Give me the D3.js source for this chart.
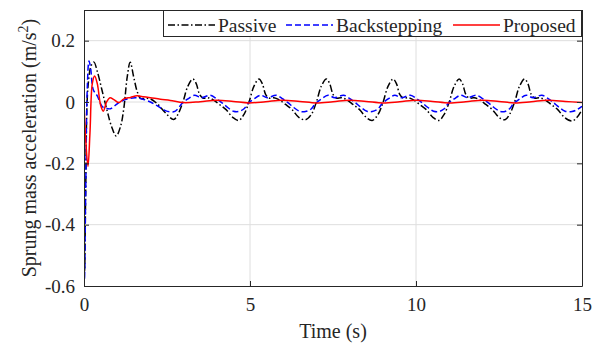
<!DOCTYPE html>
<html>
<head>
<meta charset="utf-8">
<script src="https://cdn.jsdelivr.net/npm/d3@7"></script>
<style>
  body { margin: 0; background: #fff; }
  svg { display: block; }
</style>
</head>
<body>
<svg id="chart" width="604" height="346"></svg>
<script>
// values, [time (s), acceleration (m/s^2)]
var passive = [
  [0, 0], [0.02, -0.55], [0.05, -0.3], [0.12, 0.05], [0.22, 0.12], [0.3, 0.13], [0.4, 0.1],
  [0.55, 0.035], [0.7, -0.03], [0.83, -0.08], [0.97, -0.111], [1.1, -0.08], [1.2, -0.02],
  [1.3, 0.08], [1.39, 0.13], [1.5, 0.08], [1.6, 0.035], [1.7, 0.012], [1.85, 0.012],
  [2.0, 0.01], [2.2, -0.005], [2.45, -0.035], [2.7, -0.057],
  [2.83, -0.04], [2.98, 0], [3.13, 0.052], [3.28, 0.075], [3.38, 0.06], [3.48, 0.025],
  [3.58, 0.013], [3.73, 0.014], [3.88, 0.008], [4.08, -0.008], [4.28, -0.025], [4.48, -0.05], [4.66, -0.06],
  [4.82, -0.04], [4.97, 0], [5.12, 0.052], [5.27, 0.075], [5.37, 0.06], [5.47, 0.025],
  [5.57, 0.013], [5.72, 0.014], [5.87, 0.008], [6.07, -0.008], [6.27, -0.025], [6.47, -0.05], [6.67, -0.058],
  [6.85, -0.04], [7.0, 0], [7.15, 0.052], [7.3, 0.075], [7.4, 0.06], [7.5, 0.025],
  [7.6, 0.013], [7.75, 0.014], [7.9, 0.008], [8.1, -0.008], [8.3, -0.025], [8.5, -0.05], [8.68, -0.06],
  [8.86, -0.04], [9.01, 0], [9.16, 0.052], [9.31, 0.075], [9.41, 0.06], [9.51, 0.025],
  [9.61, 0.013], [9.76, 0.014], [9.91, 0.008], [10.11, -0.008], [10.31, -0.025], [10.51, -0.05], [10.69, -0.06],
  [10.85, -0.04], [11.0, 0], [11.15, 0.052], [11.3, 0.075], [11.4, 0.06], [11.5, 0.025],
  [11.6, 0.013], [11.75, 0.014], [11.9, 0.008], [12.1, -0.008], [12.3, -0.025], [12.5, -0.05], [12.68, -0.058],
  [12.82, -0.04], [12.97, 0], [13.12, 0.052], [13.27, 0.075], [13.37, 0.06], [13.47, 0.025],
  [13.57, 0.013], [13.72, 0.014], [13.87, 0.008], [14.07, -0.008], [14.27, -0.025], [14.47, -0.05], [14.7, -0.062],
  [14.85, -0.05], [15, -0.025]
];

var backstepping = [
  [0, 0], [0.015, -0.58], [0.05, -0.3], [0.1, 0.05], [0.15, 0.134], [0.2, 0.11], [0.28, 0.04],
  [0.4, 0.02], [0.55, -0.015], [0.65, -0.02], [0.8, -0.022], [0.95, -0.01], [1.08, 0],
  [1.3, 0.01], [1.55, 0.014], [1.75, 0.01], [2.0, 0], [2.2, -0.012], [2.45, -0.028], [2.7, -0.032],
  [2.83, -0.022], [2.95, -0.005], [3.13, 0.01], [3.33, 0.022], [3.53, 0.014], [3.8, 0.022],
  [4.0, 0.01], [4.15, -0.002], [4.33, -0.018], [4.5, -0.03], [4.66, -0.031],
  [4.82, -0.022], [4.94, -0.005], [5.12, 0.01], [5.32, 0.022], [5.52, 0.014], [5.79, 0.022],
  [5.99, 0.01], [6.14, -0.002], [6.32, -0.018], [6.49, -0.03], [6.67, -0.031],
  [6.85, -0.022], [6.97, -0.005], [7.15, 0.01], [7.35, 0.022], [7.55, 0.014], [7.82, 0.022],
  [8.02, 0.01], [8.17, -0.002], [8.35, -0.018], [8.52, -0.03], [8.68, -0.031],
  [8.86, -0.022], [8.98, -0.005], [9.16, 0.01], [9.36, 0.022], [9.56, 0.014], [9.83, 0.022],
  [10.03, 0.01], [10.18, -0.002], [10.36, -0.018], [10.53, -0.03], [10.69, -0.031],
  [10.85, -0.022], [10.97, -0.005], [11.15, 0.01], [11.35, 0.022], [11.55, 0.014], [11.82, 0.022],
  [12.02, 0.01], [12.17, -0.002], [12.35, -0.018], [12.52, -0.03], [12.68, -0.031],
  [12.82, -0.022], [12.94, -0.005], [13.12, 0.01], [13.32, 0.022], [13.52, 0.014], [13.79, 0.022],
  [13.99, 0.01], [14.14, -0.002], [14.32, -0.018], [14.49, -0.03], [14.7, -0.031],
  [14.85, -0.025], [15, -0.014]
];

var proposed = [
  [0, 0], [0.05, -0.12], [0.12, -0.21], [0.18, -0.1], [0.25, 0.06], [0.32, 0.085], [0.4, 0.06],
  [0.5, -0.01], [0.58, -0.03], [0.68, 0], [0.78, 0.014], [0.9, 0.008], [1.05, -0.002],
  [1.2, 0.01], [1.4, 0.015], [1.6, 0.02], [1.8, 0.017], [2.0, 0.014], [2.3, 0.009],
  [2.6, 0.005], [3.0, -0.002], [3.5, 0.001], [4.0, 0.006], [4.5, 0.002], [4.97, -0.003],
  [5.47, 0.001], [5.97, 0.006], [6.5, 0.002], [7.0, -0.003], [7.5, 0.001], [8.0, 0.006],
  [8.5, 0.002], [9.01, -0.003], [9.51, 0.001], [10.01, 0.006], [10.5, 0.002], [11.0, -0.003],
  [11.5, 0.001], [12.0, 0.006], [12.5, 0.002], [12.97, -0.003], [13.47, 0.001], [13.97, 0.006],
  [14.5, 0.002], [15, -0.002]
];

var seriesNames = ["Passive", "Backstepping", "Proposed"];
var xTicks = [0, 5, 10, 15];
var yTicks = [-0.6, -0.4, -0.2, 0, 0.2];

var margin = {top: 10, right: 22, bottom: 60, left: 84};
var width = 604, height = 346;
var w = width - margin.left - margin.right;
var h = height - margin.top - margin.bottom;
var serif = "'Times New Roman'";
var ink = "#262626";

var svg = d3.select("#chart");
var x = d3.scaleLinear().domain([0, 15]).range([0, w]);
var y = d3.scaleLinear().domain([-0.6, 0.3]).range([h, 0]);

var g = svg.append("g")
    .attr("transform", "translate(" + margin.left + "," + margin.top + ")");

g.append("clipPath").attr("id", "clip")
  .append("rect").attr("width", w).attr("height", h);

// grid
g.append("g").selectAll("line").data(xTicks.slice(1, -1))
  .enter().append("line")
    .attr("x1", function(d) { return x(d); }).attr("x2", function(d) { return x(d); })
    .attr("y1", 0).attr("y2", h)
    .attr("stroke", "#dedede").attr("stroke-width", 1);
g.append("g").selectAll("line").data(yTicks.slice(1))
  .enter().append("line")
    .attr("y1", function(d) { return y(d); }).attr("y2", function(d) { return y(d); })
    .attr("x1", 0).attr("x2", w)
    .attr("stroke", "#dedede").attr("stroke-width", 1);

// lines
var styles = [
  {data: passive, color: "#000000", dash: "7,2.5,1.5,2.5"},
  {data: backstepping, color: "#0000ff", dash: "6,3"},
  {data: proposed, color: "#ff0000", dash: null}
];

var line = d3.line()
    .x(function(d) { return x(d[0]); })
    .y(function(d) { return y(d[1]); })
    .curve(d3.curveCatmullRom.alpha(0.5));

var plot = g.append("g").attr("clip-path", "url(#clip)");
styles.forEach(function(s) {
  plot.append("path")
    .datum(s.data)
    .attr("d", line)
    .attr("fill", "none")
    .attr("stroke", s.color)
    .attr("stroke-width", 1.5)
    .attr("stroke-dasharray", s.dash);
});

// axes (ticks inward, mirrored box)
var fmt = function(d) { return d === 0 ? "0" : d.toFixed(1); };
g.append("g").attr("transform", "translate(0," + h + ")")
  .call(d3.axisBottom(x).tickValues(xTicks).tickSizeInner(-5).tickSizeOuter(0).tickPadding(12));
g.append("g")
  .call(d3.axisLeft(y).tickValues(yTicks).tickFormat(fmt).tickSizeInner(-5).tickSizeOuter(0).tickPadding(9));
g.append("g")
  .call(d3.axisTop(x).tickValues(xTicks).tickSizeInner(-5).tickSizeOuter(0).tickFormat(""));
g.append("g").attr("transform", "translate(" + w + ",0)")
  .call(d3.axisRight(y).tickValues(yTicks).tickSizeInner(-5).tickSizeOuter(0).tickFormat(""));

g.selectAll(".domain").attr("stroke", ink);
g.selectAll(".tick line").attr("stroke", ink);
g.selectAll(".tick text")
  .style("font-family", serif)
  .style("font-size", "19px")
  .attr("fill", ink);

// axis labels
svg.append("text")
  .attr("x", margin.left + w / 2)
  .attr("y", 338)
  .attr("text-anchor", "middle")
  .attr("fill", ink)
  .style("font-family", serif)
  .style("font-size", "20px")
  .text("Time (s)");

var yl = svg.append("text")
  .attr("transform", "translate(36," + (margin.top + h / 2) + ") rotate(-90)")
  .attr("text-anchor", "middle")
  .attr("fill", ink)
  .style("font-family", serif)
  .style("font-size", "20px");
yl.append("tspan").text("Sprung mass acceleration (m/s");
yl.append("tspan").attr("dy", -8).style("font-size", "14px").text("2");
yl.append("tspan").attr("dy", 8).text(")");

// legend
var lg = svg.append("g");
lg.append("rect")
  .attr("x", 163.5).attr("y", 10.5).attr("width", 418).attr("height", 26)
  .attr("fill", "#fff").attr("stroke", ink).attr("stroke-width", 1);
var legendX = [[168, 215, 218], [286, 333, 336], [453, 500, 503]];
styles.forEach(function(s, i) {
  lg.append("line")
    .attr("x1", legendX[i][0]).attr("x2", legendX[i][1])
    .attr("y1", 25).attr("y2", 25)
    .attr("stroke", s.color).attr("stroke-width", 1.5)
    .attr("stroke-dasharray", s.dash);
  lg.append("text")
    .attr("x", legendX[i][2]).attr("y", 31.5)
    .attr("fill", ink)
    .style("font-family", serif)
    .style("font-size", "19.5px")
    .text(seriesNames[i]);
});
</script>
</body>
</html>
